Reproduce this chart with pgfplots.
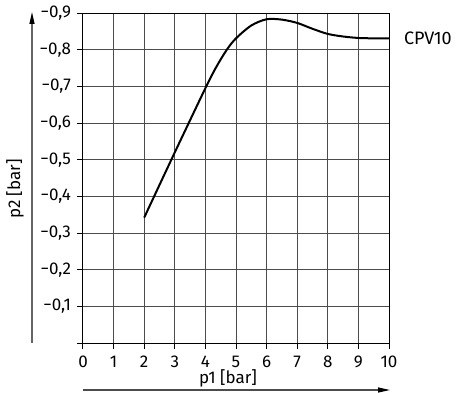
\documentclass[border=0pt]{standalone}
\usepackage{fontspec}
\setmainfont{Fira Sans}
\usepackage{pgfplots}
\pgfplotsset{compat=1.18}
\usetikzlibrary{arrows.meta}
\begin{document}
\fontsize{8.5}{10}\selectfont
\begin{tikzpicture}
\begin{axis}[
  at={(0pt,0pt)}, anchor=south west,
  scale only axis, width=153pt, height=165pt,
  xmin=0, xmax=10, ymin=-0.9, ymax=0, y dir=reverse,
  xtick={0,1,2,3,4,5,6,7,8,9,10},
  ytick={-0.9,-0.8,-0.7,-0.6,-0.5,-0.4,-0.3,-0.2,-0.1,0},
  yticklabels={{−0,9},{−0,8},{−0,7},{−0,6},{−0,5},{−0,4},{−0,3},{−0,2},{−0,1},{}},
  /pgf/number format/assume math mode=true,
  xtick pos=bottom, ytick pos=left,
  tick align=outside, major tick length=3pt,
  grid=major, grid style={black!70, line width=0.5pt},
  axis line style={black, line width=0.5pt},
  tick style={black, line width=0.5pt},
  xticklabel style={font=\fontsize{8.5}{10}\selectfont, yshift=-0.5pt},
  yticklabel style={font=\fontsize{8.5}{10}\selectfont},
  clip=false,
]
\addplot[smooth, black, line width=1pt] coordinates {
 (2,-0.342) (3,-0.52) (4,-0.695) (4.35,-0.752) (4.7,-0.8) (5,-0.831)
 (5.5,-0.866) (6,-0.883) (6.5,-0.882) (7,-0.873) (7.5,-0.857) (8,-0.843)
 (8.5,-0.836) (9,-0.832) (9.5,-0.831) (10,-0.831)
};
\node[anchor=west, font=\fontsize{9}{10}\selectfont] at (axis cs:10,-0.831) [xshift=4.5pt] {CPV10};
\end{axis}
% y arrow
\draw[black!60, line width=0.6pt, -{Triangle[length=6pt,width=2.5pt,fill=black,color=black]}] (-25.5pt,0pt) -- (-25.5pt,165.5pt);
\node[rotate=90] at (-34pt,77pt) {p2 [bar]};
% x arrow
\draw[black!70, line width=0.6pt, -{Triangle[length=6pt,width=2.5pt,fill=black,color=black]}] (0pt,-23.5pt) -- (153.5pt,-23.5pt);
\node[inner sep=1pt] at (72.5pt,-17.5pt) {p1 [bar]};
\pgfresetboundingbox
\useasboundingbox (-41.5pt,-24.5pt) rectangle (188pt,171.5pt);
\end{tikzpicture}
\end{document}
